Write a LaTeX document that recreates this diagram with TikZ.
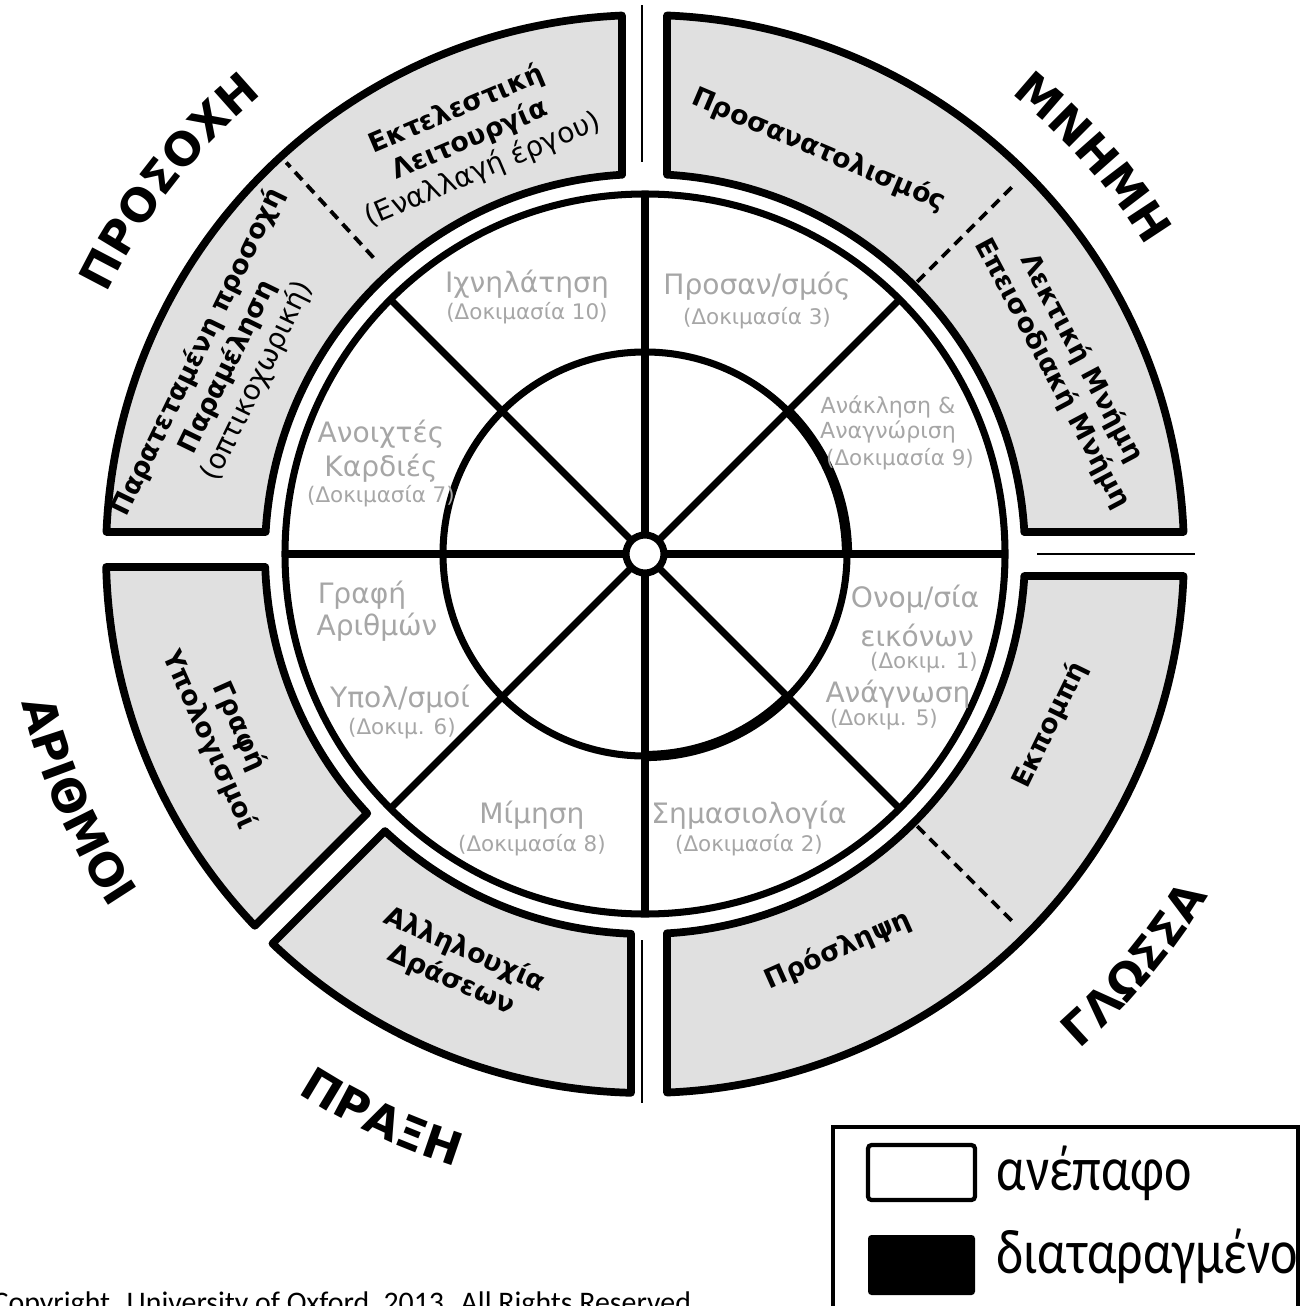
\documentclass[tikz,border=0pt]{standalone}
\usepackage{fontspec}
\usepackage{graphicx}
\setmainfont{DejaVu Sans}
\newfontfamily\calibri{Carlito}
\usetikzlibrary{decorations.text}
\definecolor{ringgray}{HTML}{E0E0E0}
\definecolor{textgray}{HTML}{A6A6A6}
% radii of the grey outer ring
\newcommand{\rin}{3.80}
\newcommand{\rout}{5.39}
% grey ring piece: start angle, end angle, gap at start, gap at end
\newcommand{\ringpart}[4]{%
  \draw[part] ({#1+asin(#3/\rin)}:\rin) -- ({#1+asin(#3/\rout)}:\rout)
    arc[start angle={#1+asin(#3/\rout)}, end angle={#2-asin(#4/\rout)}, radius=\rout]
    -- ({#2-asin(#4/\rin)}:\rin)
    arc[start angle={#2-asin(#4/\rin)}, end angle={#1+asin(#3/\rin)}, radius=\rin]
    -- cycle;}
\tikzset{
  wheel/.style={line width=2pt},
  part/.style={fill=ringgray, line width=2.2pt, line join=round},
  split/.style={dashed, dash pattern=on 3pt off 2pt, line width=1.1pt},
  gapline/.style={line width=0.6pt},
  faint/.style={text=textgray, font=\fontsize{8}{9}\selectfont, inner sep=0},
  taskno/.style={text=textgray, font=\fontsize{6.1}{7}\selectfont, inner sep=0},
  seglabel/.style={font=\bfseries\fontsize{7.6}{9.4}\selectfont, align=center, inner sep=0},
  catlabel/.style={decorate, decoration={text along path, text align=center,
      text={|\bfseries\fontsize{13}{13}\selectfont\scalebox{1}[1.2]|#1}}},
  keytext/.style={font=\calibri\fontsize{18}{18}\selectfont, xscale=0.82, inner sep=0, anchor=base west}
}

\begin{document}
\begin{tikzpicture}
    \useasboundingbox (-6.45,-7.51) rectangle (6.61,5.54);

    % outer grey ring
    \ringpart{90}{180}{0.23}{0.22}
    \ringpart{0}{90}{0.22}{0.22}
    \ringpart{270}{360}{0.22}{0.22}
    \ringpart{225}{270}{0.12}{0.14}
    \ringpart{180}{225}{0.13}{0.13}

    \draw[split] (132.5:4.02) -- (132.5:5.31);
    \draw[split] (45:3.85) -- (45:5.20);
    \draw[split] (-45:3.85) -- (-45:5.22);

    \draw[gapline] (-0.03,3.92) -- (-0.03,5.49);
    \draw[gapline] (3.92,0) -- (5.50,0);
    \draw[gapline] (-0.03,-3.86) -- (-0.03,-5.49);

    % white wheel
    \draw[wheel] (0,0) circle[radius=3.60];
    \draw[wheel] (0,0) circle[radius=2.02];
    \draw[line width=2.9pt] (45:2.02) arc[start angle=45, end angle=0, radius=2.02];
    \draw[line width=2.9pt] (-45:2.02) arc[start angle=-45, end angle=-90, radius=2.02];
    \draw[wheel] (180:3.60) -- (0:3.60);
    \draw[wheel] (90:3.60) -- (270:3.60);
    \draw[wheel] (135:3.60) -- (315:3.60);
    \draw[wheel] (45:3.60) -- (225:3.60);
    \node[wheel, draw, fill=white, circle, minimum size=0.38cm, inner sep=0] (hub) at (0,0) {};

    % tests
    \node[faint] (trail) at (-1.18,2.70) {Ιχνηλάτηση};
    \node[taskno] (trailno) at (-1.18,2.41) {(Δοκιμασία 10)};
    \node[faint] (orienttest) at (1.12,2.68) {Προσαν/σμός};
    \node[taskno] (orientno) at (1.12,2.36) {(Δοκιμασία 3)};
    \node[faint, font=\fontsize{6.3}{7.5}\selectfont] (recall) at (2.43,1.47) {Ανάκληση \&};
    \node[faint, font=\fontsize{6.3}{7.5}\selectfont] (recog) at (2.43,1.22) {Αναγνώριση};
    \node[taskno] (recallno) at (2.55,0.95) {(Δοκιμασία 9)};
    \node[faint] (hearts) at (-2.64,1.20) {Ανοιχτές};
    \node[faint] (hearts2) at (-2.64,0.86) {Καρδιές};
    \node[taskno] (heartsno) at (-2.64,0.58) {(Δοκιμασία 7)};
    \node[faint] (numwrite) at (-2.83,-0.41) {Γραφή};
    \node[faint] (numwrite2) at (-2.68,-0.73) {Αριθμών};
    \node[faint] (sums) at (-2.45,-1.45) {Υπολ/σμοί};
    \node[taskno] (sumsno) at (-2.43,-1.75) {(Δοκιμ. 6)};
    \node[faint] (mimic) at (-1.13,-2.61) {Μίμηση};
    \node[taskno] (mimicno) at (-1.13,-2.91) {(Δοκιμασία 8)};
    \node[faint] (semantic) at (1.04,-2.61) {Σημασιολογία};
    \node[taskno] (semanticno) at (1.04,-2.91) {(Δοκιμασία 2)};
    \node[faint] (naming) at (2.70,-0.45) {Ονομ/σία};
    \node[faint] (naming2) at (2.72,-0.81) {εικόνων};
    \node[taskno] (namingno) at (2.79,-1.09) {(Δοκιμ. 1)};
    \node[faint] (reading) at (2.53,-1.40) {Ανάγνωση};
    \node[taskno] (readingno) at (2.39,-1.66) {(Δοκιμ. 5)};

    % domains in the grey ring
    \node[seglabel, rotate=23] (exec) at (-1.75,4.14)
      {Εκτελεστική\\Λειτουργία\\{\mdseries\fontsize{8}{10}\selectfont(Εναλλαγή έργου)}};
    \node[seglabel, rotate=64] (vigil) at (-4.17,1.87)
      {Παρατεταμένη προσοχή\\Παραμέληση\\{\mdseries\fontsize{8}{10}\selectfont(οπτικοχωρική)}};
    \node[seglabel, rotate=-23] (orient) at (1.74,4.04) {Προσανατολισμός};
    \node[seglabel, rotate=-62] (verbal) at (4.22,1.88) {Λεκτική Μνήμη\\Επεισοδιακή Μνήμη};
    \node[seglabel, rotate=64] (emit) at (4.05,-1.71) {Εκπομπή};
    \node[seglabel, rotate=24] (recv) at (1.93,-3.96) {Πρόσληψη};
    \node[seglabel, rotate=-24] (seq) at (-1.87,-4.11) {Αλληλουχία\\Δράσεων};
    \node[seglabel, rotate=-66] (calc) at (-4.21,-1.79) {Γραφή\\Υπολογισμοί};

    % domain names round the outside
    \path[catlabel=ΠΡΟΣΟΧΗ] (172:5.98) arc[start angle=172, end angle=112, radius=5.98];
    \path[catlabel=ΜΝΗΜΗ] (71.5:5.88) arc[start angle=71.5, end angle=11.5, radius=5.88];
    \path[catlabel=ΑΡΙΘΜΟΙ] (173.5:6.41) arc[start angle=173.5, end angle=233.5, radius=6.41];
    \path[catlabel=ΠΡΑΞΗ] (215:6.41) arc[start angle=215, end angle=275, radius=6.41];
    \path[catlabel=ΓΛΩΣΣΑ] (-70:6.59) arc[start angle=-70, end angle=-10, radius=6.59];

    % key
    \draw[line width=1.2pt] (1.88,-5.73) rectangle (6.53,-7.70);
    \draw[line width=1.2pt, rounded corners=1pt] (2.23,-5.91) rectangle (3.30,-6.46);
    \fill[rounded corners=1pt] (2.23,-6.81) rectangle (3.30,-7.41);
    \node[keytext] (intact) at (3.51,-6.36) {ανέπαφο};
    \node[keytext] (impaired) at (3.51,-7.19) {διαταραγμένο};

    \node[font=\calibri\fontsize{8.5}{9}\selectfont, anchor=base west, inner sep=0] (rights)
      at (-6.53,-7.58) {Copyright. University of Oxford, 2013. All Rights Reserved.};
\end{tikzpicture}
\end{document}
